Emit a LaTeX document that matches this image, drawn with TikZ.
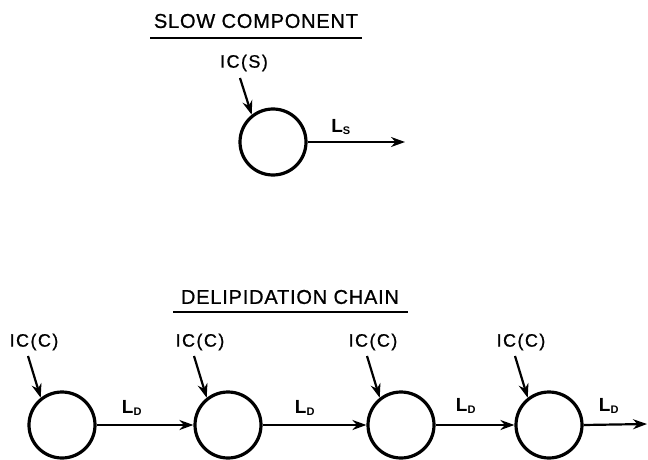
\documentclass[tikz,border=0pt]{standalone}
\usepackage{fontspec}
\setmainfont{Liberation Sans}
\newfontfamily\spaced[LetterSpace=8,FakeBold=0.8]{Liberation Sans}
\newfontfamily\tspaced[LetterSpace=4,FakeBold=0.8]{Liberation Sans}
\usetikzlibrary{arrows.meta}
\begin{document}
\begin{tikzpicture}[x=1pt,y=-1pt,
  pool/.style={circle,draw,line width=3.2pt,minimum size=66pt,inner sep=0pt},
  flow/.style={line width=2.2pt,-{Stealth[length=14pt,width=10pt]}},
  lbl/.style={font=\spaced\fontsize{18}{20}\selectfont,inner sep=0pt},
  ttl/.style={font=\tspaced\fontsize{20}{22}\selectfont,inner sep=0pt},
  rate/.style={font=\fontsize{19}{21}\selectfont\bfseries,inner sep=0pt}]
\useasboundingbox (0,0) rectangle (648,460);
% slow component
\node[ttl] (t1) at (256,21) {SLOW COMPONENT};
\draw[line width=1.8pt] (150,38) -- (362,38);
\node[lbl] (ics) at (244,63) {IC(S)};
\node[pool] (s) at (273,142) {};
\coordinate (ics0) at (240,78);
\draw[flow] (ics0) -- (s.128);
\coordinate (send) at (405,142);
\draw[flow] (s.east) -- (send);
\node[rate] (ls) at (341,127) {L\textsubscript{\fontsize{11}{12}\selectfont S}};
% delipidation chain
\node[ttl] (t2) at (290,297) {DELIPIDATION CHAIN};
\draw[line width=1.8pt] (173,312) -- (408,312);
\foreach \n/\x in {1/62,2/228,3/401,4/549}{
  \node[pool] (c\n) at (\x,425) {};
  \node[lbl] (ic\n) at (\x-28,342) {IC(C)};
  \coordinate (a\n) at (\x-34,356);
  \draw[flow] (a\n) -- (c\n.128);
}
\draw[flow] (c1.east) -- (c2.west);
\draw[flow] (c2.east) -- (c3.west);
\draw[flow] (c3.east) -- (c4.west);
\coordinate (cend) at (647,424);
\draw[flow] (c4.east) -- (cend);
\node[rate] at (132,408) {L\textsubscript{\fontsize{11}{12}\selectfont D}};
\node[rate] at (305,408) {L\textsubscript{\fontsize{11}{12}\selectfont D}};
\node[rate] at (466,406) {L\textsubscript{\fontsize{11}{12}\selectfont D}};
\node[rate] at (609,406) {L\textsubscript{\fontsize{11}{12}\selectfont D}};
\end{tikzpicture}
\end{document}
